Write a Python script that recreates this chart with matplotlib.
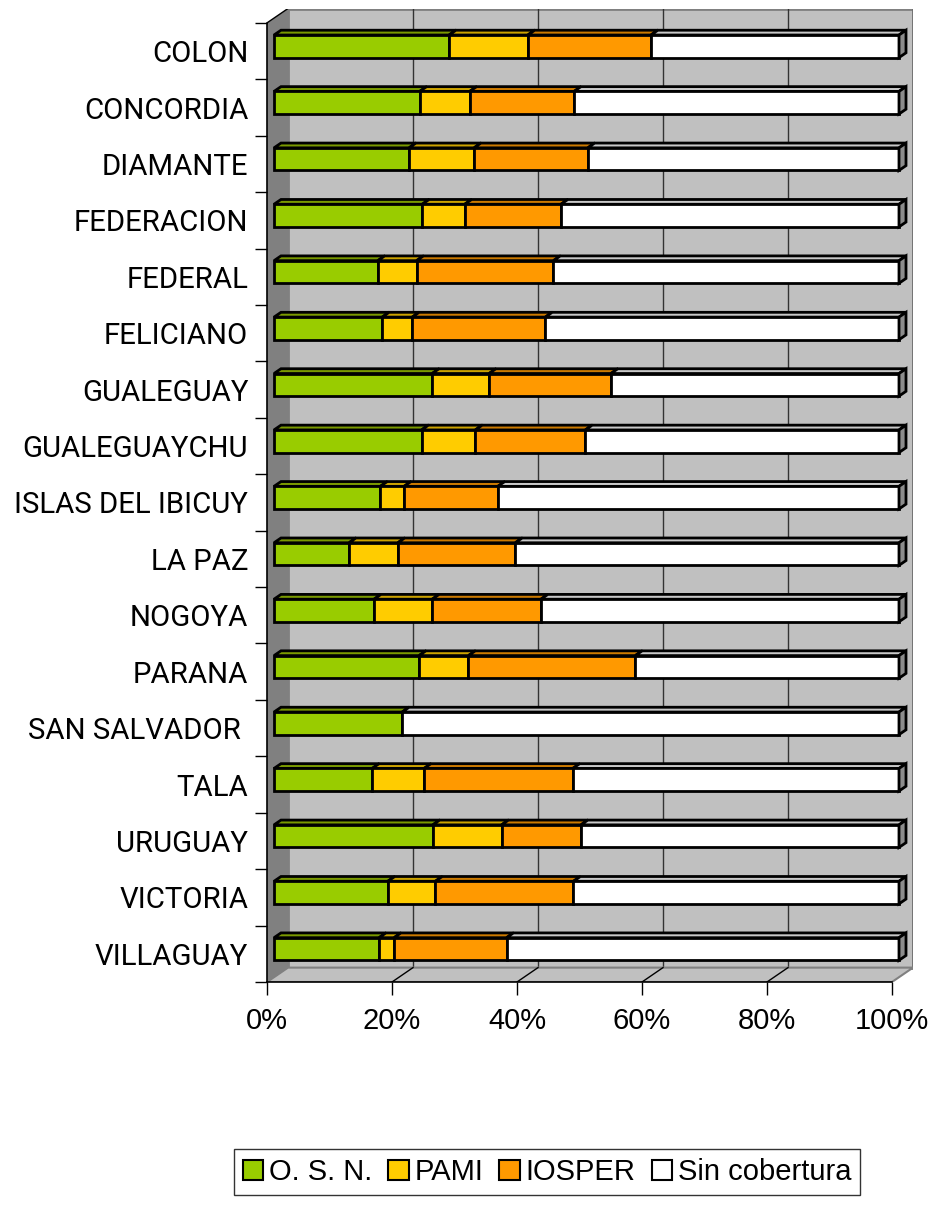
import numpy as np
import matplotlib.pyplot as plt
from matplotlib.patches import Polygon, Rectangle, Patch

# departamentos (top to bottom)
departamentos = ["COLON", "CONCORDIA", "DIAMANTE", "FEDERACION", "FEDERAL",
                 "FELICIANO", "GUALEGUAY", "GUALEGUAYCHU", "ISLAS DEL IBICUY",
                 "LA PAZ", "NOGOYA", "PARANA", "SAN SALVADOR ", "TALA",
                 "URUGUAY", "VICTORIA", "VILLAGUAY"]

# porcentaje de poblacion por cobertura
osn = [28.0, 23.3, 21.6, 23.7, 16.6, 17.3, 25.3, 23.6, 17.0, 12.0, 16.0, 23.2, 20.5, 15.7, 25.4, 18.2, 16.8]
pami = [12.6, 8.0, 10.4, 6.8, 6.2, 4.8, 9.1, 8.6, 3.8, 7.8, 9.3, 7.9, 0.0, 8.3, 11.0, 7.6, 2.4]
iosper = [19.7, 16.7, 18.2, 15.4, 21.9, 21.3, 19.5, 17.6, 15.0, 18.8, 17.4, 26.7, 0.0, 23.8, 12.7, 22.1, 18.0]
sin_cob = [39.7, 52.0, 49.8, 54.1, 55.3, 56.6, 46.1, 50.2, 64.2, 61.4, 57.3, 42.2, 79.5, 52.2, 50.9, 52.1, 62.8]

series = ["O. S. N.", "PAMI", "IOSPER", "Sin cobertura"]
front_colors = ["#99CC00", "#FFCC00", "#FF9900", "#FFFFFF"]
top_colors = ["#7A9A00", "#CCA300", "#CC7A00", "#C8C8C8"]

# 3d look: depth offset in data units
DX = 3.36
DY = -0.255
BAR_H = 0.4
EDGE = 2.0

vals = np.array([osn, pami, iosper, sin_cob], dtype=float)
vals = vals / vals.sum(axis=0) * 100
n = len(departamentos)
ypos = np.arange(n)

fig = plt.figure(figsize=(9.31, 12.20), dpi=100)
ax = fig.add_axes([267 / 931, 238 / 1220, 646 / 931, 973.5 / 1220])
ax.set_xlim(0, 100 + DX)
ax.set_ylim(n - 0.5, -0.5 + DY)
for s in ax.spines.values():
    s.set_visible(False)

# walls and floor
ax.add_patch(Rectangle((DX, -0.5 + DY), 100, n, facecolor="#C0C0C0",
                       edgecolor="#808080", lw=2, zorder=0))
for v in range(20, 101, 20):
    ax.plot([v + DX, v + DX], [-0.5 + DY, n - 0.5 + DY], color="#333333", lw=1, zorder=1)
ax.add_patch(Polygon([(0, n - 0.5), (100, n - 0.5), (100 + DX, n - 0.5 + DY), (DX, n - 0.5 + DY)],
                     closed=True, facecolor="#C0C0C0", edgecolor="#808080", lw=1.5, zorder=1))
for v in range(20, 100, 20):
    ax.plot([v, v + DX], [n - 0.5, n - 0.5 + DY], color="black", lw=1, zorder=1.5)
ax.add_patch(Polygon([(0, -0.5), (DX, -0.5 + DY), (DX, n - 0.5 + DY), (0, n - 0.5)],
                     closed=True, facecolor="#808080", edgecolor="none", zorder=1))
ax.plot([0, DX], [-0.5, -0.5 + DY], color="black", lw=1, zorder=2)

# bars: front face at 1/3 depth, back at 2/3
fx, fy = DX / 3, DY / 3
left = np.zeros(n)
for j in range(4):
    w = vals[j]
    for i in range(n):
        if w[i] <= 0:
            continue
        top = ypos[i] - BAR_H / 2 + fy
        l, r = left[i] + fx, left[i] + w[i] + fx
        ax.add_patch(Polygon([(l, top), (r, top), (r + DX / 3, top + DY / 3), (l + DX / 3, top + DY / 3)],
                             closed=True, facecolor=top_colors[j], edgecolor="black", lw=EDGE,
                             joinstyle="miter", zorder=3))
    ax.barh(ypos + fy, w, left=left + fx, height=BAR_H, color=front_colors[j],
            edgecolor="black", linewidth=EDGE, zorder=4)
    left += w

# right end faces
for i in range(n):
    top = ypos[i] - BAR_H / 2 + fy
    bot = ypos[i] + BAR_H / 2 + fy
    x0 = left[i] + fx
    ax.add_patch(Polygon([(x0, top), (x0 + DX / 3, top + DY / 3), (x0 + DX / 3, bot + DY / 3), (x0, bot)],
                         closed=True, facecolor="#8C8C8C", edgecolor="black", lw=EDGE,
                         joinstyle="miter", zorder=4))

# axis lines
ax.plot([0, 0], [-0.5, n - 0.5], color="black", lw=1.2, zorder=5, clip_on=False)
ax.plot([0, 100], [n - 0.5, n - 0.5], color="black", lw=1.2, zorder=5, clip_on=False)

ax.set_xticks(range(0, 101, 20))
ax.set_xticklabels([f"{v}%" for v in range(0, 101, 20)], fontfamily="Liberation Sans", fontsize=21)
ax.tick_params(axis="x", direction="out", length=9, width=1, pad=9)
ax.set_yticks(ypos)
ax.set_yticklabels(departamentos, fontfamily="Roboto", fontsize=21.2)
ax.set_yticks(np.arange(-0.5, n, 1), minor=True)
ax.tick_params(axis="y", which="major", length=0, pad=13.5)
ax.tick_params(axis="y", which="minor", direction="out", length=9, width=1)

handles = [Patch(facecolor=c, edgecolor="black", lw=1.5) for c in front_colors]
fig.legend(handles, series, loc="center", bbox_to_anchor=(547 / 931, 1 - 1172 / 1220), ncol=4,
           prop={"family": "Liberation Sans", "size": 21}, frameon=True, fancybox=False,
           edgecolor="black", handlelength=0.7, handleheight=0.7, handletextpad=0.2,
           columnspacing=0.55, borderpad=0.3, borderaxespad=0)

fig.savefig("out.png", dpi=100, facecolor="white")
